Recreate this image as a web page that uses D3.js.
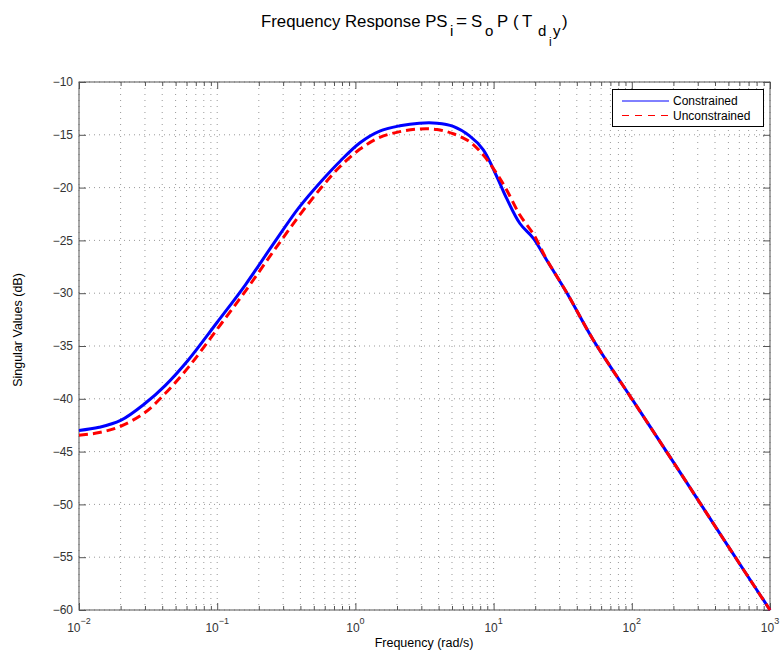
<!DOCTYPE html>
<html>
<head>
<meta charset="utf-8">
<script src="https://cdn.jsdelivr.net/npm/d3@7"></script>
<style>
  body { margin: 0; background: #fff; }
  text { font-family: "Liberation Sans", Arial, Helvetica, sans-serif; }
</style>
</head>
<body>
<svg id="chart" width="784" height="661"></svg>
<script>
// frequency points (rad/s)
const freq = [0.01, 0.014, 0.02, 0.03, 0.042, 0.062, 0.1, 0.16, 0.25, 0.39, 0.575, 0.775,
  1.08, 1.5, 2.1, 2.9, 3.9, 5.1, 6.7, 8.4, 10.5, 12.4, 15.5, 19.4, 24.2, 34, 52.5,
  100, 200, 500, 1000];

// singular values (dB)
const constrained = [-43.0, -42.7, -42.05, -40.45, -38.75, -36.3, -32.75, -29.2, -25.5, -21.9, -19.3, -17.5,
  -15.75, -14.65, -14.15, -13.9, -13.9, -14.2, -15.1, -16.4, -18.9, -21.0, -23.4, -24.8, -26.85, -30.0, -34.4,
  -40.0, -46.0, -54.0, -60.0];
const unconstrained = [-43.45, -43.2, -42.6, -41.3, -39.5, -37.0, -33.4, -29.8, -26.2, -22.7, -19.9, -18.0,
  -16.35, -15.25, -14.7, -14.45, -14.5, -14.9, -15.65, -16.9, -18.65, -20.2, -22.6, -24.4, -26.8, -30.0, -34.4,
  -40.0, -46.0, -54.0, -60.0];

const xMajor = [1e-2, 1e-1, 1e0, 1e1, 1e2, 1e3];
const xExp = ["\u22122", "\u22121", "0", "1", "2", "3"];
const yTicks = [-60, -55, -50, -45, -40, -35, -30, -25, -20, -15, -10];
const seriesNames = ["Constrained", "Unconstrained"];

const svg = d3.select("#chart");
const pLeft = 79, pRight = 770, pTop = 82, pBottom = 610;

const x = d3.scaleLog().domain([1e-2, 1e3]).range([pLeft, pRight]);
const y = d3.scaleLinear().domain([-60, -10]).range([pBottom, pTop]);

// minor tick positions 2..9 per decade
let xMinor = [];
xMajor.slice(0, -1).forEach(d => {
  for (let k = 2; k <= 9; k++) xMinor.push(d * k);
});

const axisColor = "#555";
const textColor = "#333";

// grid (dotted)
const grid = svg.append("g");
grid.selectAll("line.v")
  .data(xMajor.concat(xMinor))
  .enter().append("line")
  .attr("x1", d => x(d)).attr("x2", d => x(d))
  .attr("y1", pTop).attr("y2", pBottom)
  .style("stroke", "#999")
  .style("stroke-width", 1)
  .style("stroke-dasharray", "1,5");
grid.selectAll("line.h")
  .data(yTicks)
  .enter().append("line")
  .attr("x1", pLeft).attr("x2", pRight)
  .attr("y1", d => y(d)).attr("y2", d => y(d))
  .style("stroke", "#999")
  .style("stroke-width", 1)
  .style("stroke-dasharray", "1,4");

// ticks (inward) on all four sides
function tickAxis(axis, tr) {
  const g = svg.append("g").attr("transform", tr).call(axis);
  g.select(".domain").remove();
  g.selectAll(".tick line").style("stroke", axisColor);
  g.selectAll(".tick text").remove();
  return g;
}
tickAxis(d3.axisBottom(x).tickValues(xMajor).tickSize(-7), `translate(0,${pBottom})`);
tickAxis(d3.axisBottom(x).tickValues(xMinor).tickSize(-4), `translate(0,${pBottom})`);
tickAxis(d3.axisTop(x).tickValues(xMajor).tickSize(-7), `translate(0,${pTop})`);
tickAxis(d3.axisTop(x).tickValues(xMinor).tickSize(-4), `translate(0,${pTop})`);
tickAxis(d3.axisLeft(y).tickValues(yTicks).tickSize(-7), `translate(${pLeft},0)`);
tickAxis(d3.axisRight(y).tickValues(yTicks).tickSize(-7), `translate(${pRight},0)`);

// frame
svg.append("rect")
  .attr("x", pLeft).attr("y", pTop)
  .attr("width", pRight - pLeft).attr("height", pBottom - pTop)
  .style("fill", "none")
  .style("stroke", axisColor)
  .style("stroke-width", 1);

// x tick labels 10^n
const xl = svg.append("g").selectAll("text")
  .data(xMajor)
  .enter().append("text")
  .attr("x", d => x(d))
  .attr("y", 632)
  .attr("text-anchor", "middle")
  .style("font-size", "12px")
  .style("fill", textColor);
xl.append("tspan").text("10");
xl.append("tspan").attr("dy", -8).style("font-size", "9px").text((d, i) => xExp[i]);

// y tick labels
svg.append("g").selectAll("text")
  .data(yTicks)
  .enter().append("text")
  .attr("x", pLeft - 6)
  .attr("y", d => y(d))
  .attr("dy", "0.35em")
  .attr("text-anchor", "end")
  .style("font-size", "12px")
  .style("fill", textColor)
  .text(d => d3.format("d")(d).replace("-", "\u2212"));

// curves
const line = d3.line()
  .x((d, i) => x(freq[i]))
  .y(d => y(d))
  .curve(d3.curveCatmullRom.alpha(0.5));

svg.append("path")
  .datum(constrained)
  .attr("d", line)
  .style("fill", "none")
  .style("stroke", "#0000ff")
  .style("stroke-width", 3);

svg.append("path")
  .datum(unconstrained)
  .attr("d", line)
  .style("fill", "none")
  .style("stroke", "#ff0000")
  .style("stroke-width", 3)
  .style("stroke-dasharray", "9,5");

// legend
const lg = svg.append("g");
lg.append("rect")
  .attr("x", 612.5).attr("y", 89.5)
  .attr("width", 151).attr("height", 37)
  .style("fill", "#fff")
  .style("stroke", "#000")
  .style("stroke-width", 1);
const rows = lg.selectAll("g.row")
  .data(seriesNames)
  .enter().append("g")
  .attr("transform", (d, i) => `translate(0,${101 + i * 14.5})`);
rows.append("line")
  .attr("x1", 622).attr("x2", 669)
  .style("stroke", (d, i) => i === 0 ? "#0000ff" : "#ff0000")
  .style("stroke-width", 1)
  .style("stroke-dasharray", (d, i) => i === 0 ? null : "7,6");
rows.append("text")
  .attr("x", 673)
  .attr("dy", "0.35em")
  .style("font-size", "12px")
  .style("fill", "#000")
  .text(d => d);

// title, TeX-like: PS_i=S_oP (T_{d_i y})
const title = svg.append("text")
  .attr("x", 261).attr("y", 27)
  .style("font-size", "16.8px")
  .style("fill", "#000");
title.append("tspan").text("Frequency Response PS");
title.append("tspan").attr("x", 450).attr("y", 36).style("font-size", "15px").text("i");
title.append("tspan").attr("x", 456).attr("y", 27).style("font-size", "19px").text("=");
title.append("tspan").attr("x", 471).attr("y", 27).text("S");
title.append("tspan").attr("x", 485).attr("y", 36).style("font-size", "15px").text("o");
title.append("tspan").attr("x", 497).attr("y", 27).text("P");
title.append("tspan").attr("x", 513).attr("y", 27).text("(");
title.append("tspan").attr("x", 522).attr("y", 27).text("T");
title.append("tspan").attr("x", 538).attr("y", 36).style("font-size", "15px").text("d");
title.append("tspan").attr("x", 549).attr("y", 46).style("font-size", "12px").text("i");
title.append("tspan").attr("x", 553).attr("y", 36).style("font-size", "15px").text("y");
title.append("tspan").attr("x", 562).attr("y", 27).text(")");

// axis labels
svg.append("text")
  .attr("x", 424).attr("y", 647)
  .attr("text-anchor", "middle")
  .style("font-size", "12.5px")
  .style("fill", "#000")
  .text("Frequency (rad/s)");

svg.append("text")
  .attr("transform", "translate(22,330) rotate(-90)")
  .attr("text-anchor", "middle")
  .style("font-size", "12.5px")
  .style("fill", "#000")
  .text("Singular Values (dB)");
</script>
</body>
</html>
